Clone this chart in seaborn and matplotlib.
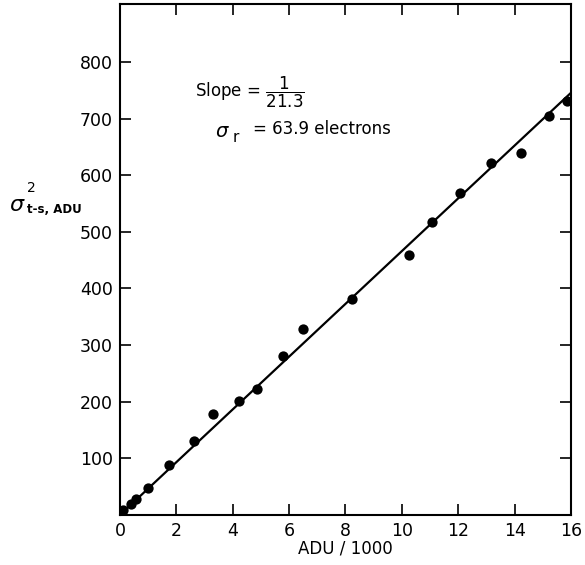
import numpy as np
import pandas as pd
import matplotlib
matplotlib.use('Agg')
import matplotlib.pyplot as plt
import seaborn as sns

# measured points, ADU in thousands vs variance
adu = [0.12, 0.41, 0.56, 1.0, 1.75, 2.64, 3.31, 4.22, 4.88, 5.77, 6.48, 8.25,
       10.26, 11.07, 12.06, 13.17, 14.24, 15.22, 15.86]
var = [8, 20, 29, 48, 88, 131, 178, 202, 223, 280, 329, 382,
       460, 517, 569, 622, 639, 704, 731]

# fitted line
fit_slope = 46.6
fit_intercept = 0.0
fit_x = [0, 16]

xticks = [0, 2, 4, 6, 8, 10, 12, 14, 16]
yticks = [100, 200, 300, 400, 500, 600, 700, 800]

sns.set_style('ticks')
plt.rcParams['font.family'] = ['DejaVu Sans']
plt.rcParams['mathtext.fontset'] = 'dejavusans'
plt.rcParams['text.color'] = 'black'
plt.rcParams['axes.labelcolor'] = 'black'

df = pd.DataFrame({'adu': adu, 'var': var})
line = pd.DataFrame({'x': fit_x, 'y': fit_intercept + fit_slope * np.array(fit_x)})

fig = plt.figure(figsize=(5.85, 5.65), dpi=100)
ax = fig.add_axes([0.205, 0.0885, 0.771, 0.904])

sns.lineplot(data=line, x='x', y='y', color='black', linewidth=1.6, ax=ax)
sns.scatterplot(data=df, x='adu', y='var', color='black', s=55, edgecolor='black',
                linewidth=0, ax=ax, zorder=3)

ax.set_xlim(0, 16)
ax.set_ylim(0, 902)
ax.set_xticks(xticks)
ax.set_yticks(yticks)
ax.tick_params(direction='in', length=8, width=1.2, labelsize=12.5, colors='black',
               top=True, right=True, pad=5)
for s in ax.spines.values():
    s.set_linewidth(1.5)
    s.set_color('black')

ax.set_xlabel('ADU / 1000', fontsize=12)
ax.xaxis.set_label_coords(0.5, -0.048)
ax.set_ylabel('')

# y-axis label pieces
fig.text(0.015, 0.638, r'$\sigma$', fontsize=16, va='center')
fig.text(0.046, 0.667, '2', fontsize=10, va='center')
fig.text(0.046, 0.629, 't-s, ADU', fontsize=8.5, fontweight='bold', va='center')

ax.text(0.167, 0.828, r'Slope = $\dfrac{1}{21.3}$', transform=ax.transAxes,
        fontsize=12, va='center')
ax.text(0.21, 0.75, r'$\sigma$', transform=ax.transAxes, fontsize=14, va='center')
ax.text(0.25, 0.74, 'r', transform=ax.transAxes, fontsize=11, va='center')
ax.text(0.295, 0.755, '= 63.9 electrons', transform=ax.transAxes,
        fontsize=12, va='center')

fig.savefig('out.png', dpi=100)
